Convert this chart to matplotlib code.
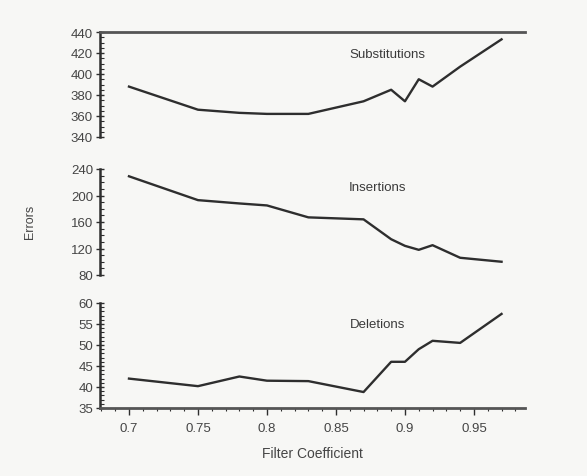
import matplotlib
matplotlib.use("Agg")
import matplotlib.pyplot as plt
from matplotlib.ticker import MultipleLocator

coef = [0.70, 0.75, 0.78, 0.80, 0.83, 0.87, 0.89, 0.90, 0.91, 0.92, 0.94, 0.97]
substitutions = [388, 366, 363, 362, 362, 374, 385, 374, 395, 388, 407, 433]
insertions = [229, 193, 188, 185, 167, 164, 134, 124, 118, 125, 106, 100]
deletions = [42.0, 40.2, 42.5, 41.5, 41.4, 38.8, 46.0, 46.0, 49.0, 51.0, 50.5, 57.4]

names = ["Substitutions", "Insertions", "Deletions"]
series = [substitutions, insertions, deletions]
ylims = [(340, 440), (80, 240), (35, 60)]
majors = [20, 40, 5]
minors = [5, 10, 1]
label_pos = [(0.887, 419), (0.880, 213), (0.880, 55)]

plt.rcParams['font.family'] = ['Liberation Sans', 'DejaVu Sans']
W, H = 587, 477
fig = plt.figure(figsize=(W / 100, H / 100), dpi=100)
fig.patch.set_facecolor('#f7f7f5')

ink = '#2e2e2e'
txt = '#454545'
left_px, right_px = 100, 525
boxes = [(33, 138), (170, 276), (304, 409)]
xlim = (0.679, 0.987)

for i in range(3):
    t, b = boxes[i]
    ax = fig.add_axes([left_px / W, 1 - b / H, (right_px - left_px) / W, (b - t) / H])
    ax.set_facecolor('none')
    ax.plot(coef, series[i], color=ink, lw=1.7)
    ax.set_xlim(*xlim)
    ax.set_ylim(*ylims[i])
    ax.yaxis.set_major_locator(MultipleLocator(majors[i]))
    ax.yaxis.set_minor_locator(MultipleLocator(minors[i]))
    ax.spines['right'].set_visible(False)
    ax.spines['left'].set_color(ink)
    ax.spines['left'].set_linewidth(1.8)
    ax.spines['top'].set_visible(i == 0)
    ax.spines['top'].set_color('#555555')
    ax.spines['top'].set_linewidth(2.0)
    ax.spines['bottom'].set_visible(i == 2)
    ax.spines['bottom'].set_color('#555555')
    ax.spines['bottom'].set_linewidth(2.0)
    ax.tick_params(axis='y', which='major', direction='inout', length=6, width=1, color=ink,
                   labelsize=9.5, labelcolor=txt, pad=2)
    ax.tick_params(axis='y', which='minor', direction='in', length=3, width=0.8, color=ink)
    if i < 2:
        ax.tick_params(axis='x', which='both', bottom=False, labelbottom=False)
    else:
        ax.set_xticks([0.7, 0.75, 0.8, 0.85, 0.9, 0.95])
        ax.set_xticklabels(['0.7', '0.75', '0.8', '0.85', '0.9', '0.95'])
        ax.xaxis.set_minor_locator(MultipleLocator(0.01))
        ax.tick_params(axis='x', which='major', direction='out', length=5, width=1, color=ink,
                       labelsize=9.5, labelcolor=txt, pad=5)
        ax.tick_params(axis='x', which='minor', direction='out', length=2.5, width=0.8, color=ink)
        ax.set_xlabel('Filter Coefficient', fontsize=10, color=txt, labelpad=9)
    lx, ly = label_pos[i]
    ax.text(lx, ly, names[i], ha='center', va='center', fontsize=9.5, color='#3a3a3a')

fig.text(30 / W, 1 - 222 / H, 'Errors', rotation=90, ha='center', va='center',
         fontsize=9, color=txt)

fig.savefig('out.png', dpi=100, facecolor=fig.get_facecolor())
